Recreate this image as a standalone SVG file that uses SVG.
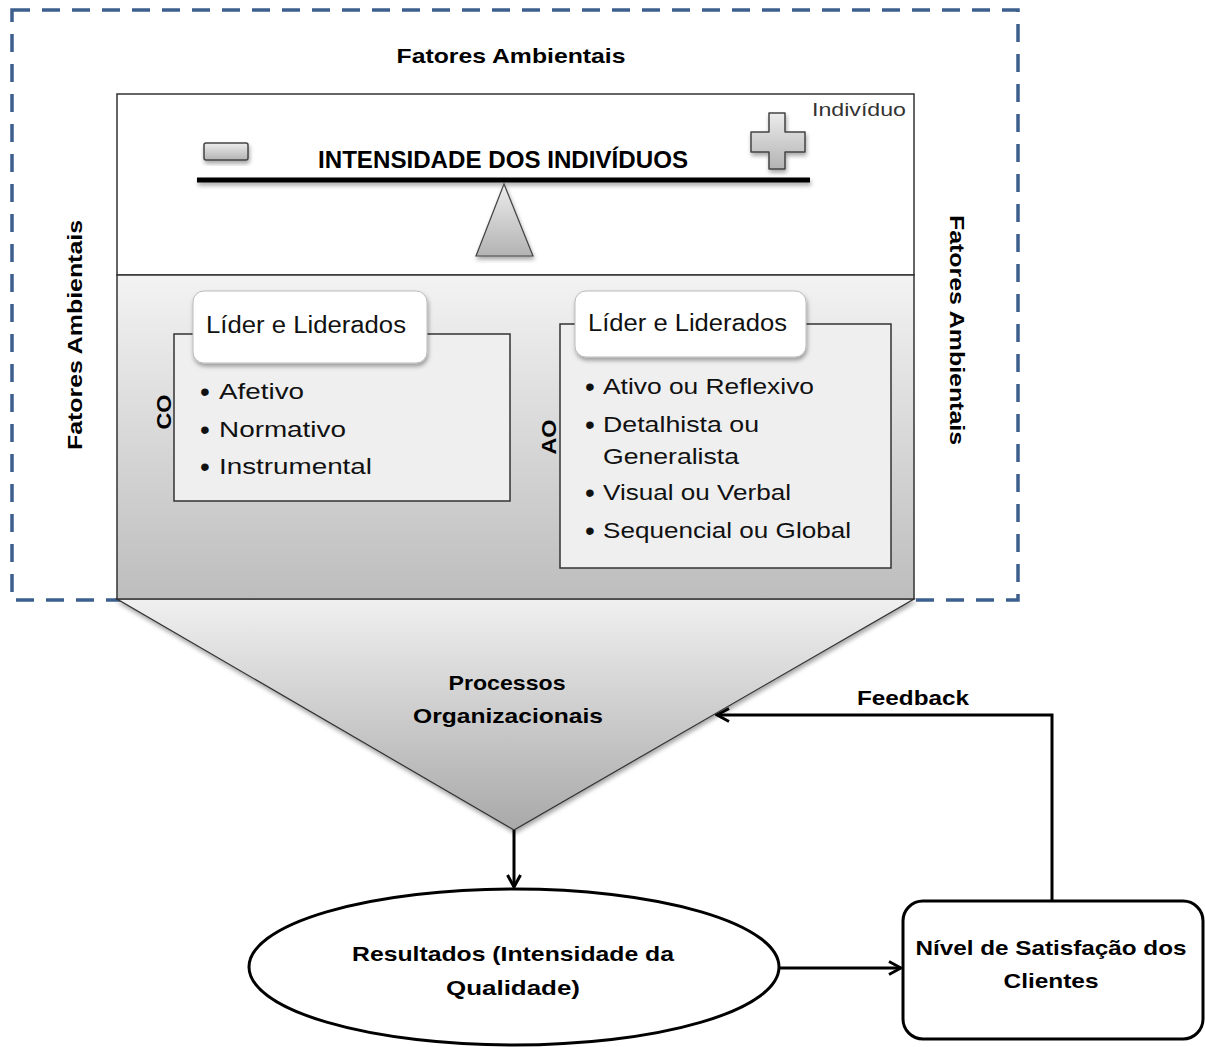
<svg xmlns="http://www.w3.org/2000/svg" width="1205" height="1047" viewBox="0 0 1205 1047">
<defs>
<style>
text{font-family:"Liberation Sans",Arial,sans-serif;fill:#000}
.b{font-weight:bold}
.lbl{font-size:21px;font-weight:bold}
.item{font-size:22px;fill:#111}
.bul{font-size:28px;fill:#111}
.conn{fill:none;stroke:#000;stroke-width:3}
</style>
<linearGradient id="gBody" x1="0" y1="0" x2="0" y2="1"><stop offset="0" stop-color="#f3f3f3"/><stop offset="1" stop-color="#bdbdbd"/></linearGradient>
<linearGradient id="gFun" x1="0" y1="0" x2="0" y2="1"><stop offset="0" stop-color="#f0f0f0"/><stop offset="1" stop-color="#a9a9a9"/></linearGradient>
<linearGradient id="gSym" x1="0" y1="0" x2="0" y2="1"><stop offset="0" stop-color="#ececec"/><stop offset="1" stop-color="#b3b3b3"/></linearGradient>
<filter id="sh" x="-10%" y="-10%" width="130%" height="140%"><feDropShadow dx="1" dy="3" stdDeviation="2" flood-color="#000" flood-opacity="0.35"/></filter>
<filter id="shL" filterUnits="userSpaceOnUse" x="180" y="170" width="650" height="25"><feDropShadow dx="1" dy="3" stdDeviation="2" flood-color="#000" flood-opacity="0.35"/></filter>
<marker id="arr" viewBox="0 0 16 16" refX="14" refY="8" markerWidth="16" markerHeight="16" markerUnits="userSpaceOnUse" orient="auto"><path d="M2,1.5 L14,8 L2,14.5" fill="none" stroke="#000" stroke-width="3"/></marker>
</defs>
<rect width="1205" height="1047" fill="#fff"/>
<g id="env">
<rect x="12" y="10" width="1006" height="590" fill="none" stroke="#3d5f8e" stroke-width="3.5" stroke-dasharray="18 12"/>
<text class="lbl" x="511" y="63" text-anchor="middle" textLength="229" lengthAdjust="spacingAndGlyphs">Fatores Ambientais</text>
<text class="lbl" transform="translate(82,335) rotate(-90)" text-anchor="middle" textLength="230" lengthAdjust="spacingAndGlyphs">Fatores Ambientais</text>
<text class="lbl" transform="translate(950,330) rotate(90)" text-anchor="middle" textLength="230" lengthAdjust="spacingAndGlyphs">Fatores Ambientais</text>
</g>
<g id="funnel">
<polygon points="117,599 914,599 514,830" fill="url(#gFun)" stroke="#333" stroke-width="1.2" filter="url(#sh)"/>
<text class="lbl" x="507" y="690" text-anchor="middle" textLength="117" lengthAdjust="spacingAndGlyphs">Processos</text>
<text class="lbl" x="508" y="723" text-anchor="middle" textLength="190" lengthAdjust="spacingAndGlyphs">Organizacionais</text>
</g>
<g id="individuo">
<rect x="117" y="94" width="797" height="181" fill="#fff" stroke="#333" stroke-width="1.5"/>
<rect x="117" y="275" width="797" height="324" fill="url(#gBody)" stroke="#333" stroke-width="1.5"/>
<text x="906" y="116" text-anchor="end" style="font-size:19px;fill:#333" textLength="94" lengthAdjust="spacingAndGlyphs">Indivíduo</text>
</g>
<g id="balanca">
<rect x="197" y="177.5" width="613" height="5" fill="#000" filter="url(#shL)"/>
<polygon points="504,184 476,256 533,256" fill="url(#gSym)" stroke="#444" stroke-width="1.2" filter="url(#sh)"/>
<rect x="204" y="143" width="44" height="17" rx="2" fill="url(#gSym)" stroke="#444" stroke-width="1.5" filter="url(#sh)"/>
<path d="M769,113 H785 V132 H805 V152 H785 V169 H769 V152 H751 V132 H769 Z" fill="url(#gSym)" stroke="#444" stroke-width="1.5" stroke-linejoin="round" filter="url(#sh)"/>
<text class="b" x="503" y="168" text-anchor="middle" style="font-size:23px" textLength="370" lengthAdjust="spacingAndGlyphs">INTENSIDADE DOS INDIVÍDUOS</text>
</g>
<g id="co">
<rect x="174" y="334" width="336" height="167" fill="#efefef" stroke="#333" stroke-width="1.5"/>
<rect x="193" y="291" width="234" height="72" rx="11" fill="#fff" stroke="#bbb" stroke-width="1" filter="url(#sh)"/>
<text x="206" y="333" style="font-size:23px;fill:#111" textLength="200" lengthAdjust="spacingAndGlyphs">Líder e Liderados</text>
<text class="bul" x="200" y="401">•</text><text class="item" x="219" y="399" textLength="85" lengthAdjust="spacingAndGlyphs">Afetivo</text>
<text class="bul" x="200" y="439">•</text><text class="item" x="219" y="437" textLength="127" lengthAdjust="spacingAndGlyphs">Normativo</text>
<text class="bul" x="200" y="476">•</text><text class="item" x="219" y="474" textLength="153" lengthAdjust="spacingAndGlyphs">Instrumental</text>
<text class="lbl" transform="translate(171,412) rotate(-90)" text-anchor="middle" style="font-size:20px" textLength="35" lengthAdjust="spacingAndGlyphs">CO</text>
</g>
<g id="ao">
<rect x="560" y="324" width="331" height="244" fill="#efefef" stroke="#333" stroke-width="1.5"/>
<rect x="575" y="291" width="231" height="66" rx="11" fill="#fff" stroke="#bbb" stroke-width="1" filter="url(#sh)"/>
<text x="588" y="331" style="font-size:23px;fill:#111" textLength="199" lengthAdjust="spacingAndGlyphs">Líder e Liderados</text>
<text class="bul" x="585" y="396">•</text><text class="item" x="603" y="394" textLength="211" lengthAdjust="spacingAndGlyphs">Ativo ou Reflexivo</text>
<text class="bul" x="585" y="434">•</text><text class="item" x="603" y="432" textLength="156" lengthAdjust="spacingAndGlyphs">Detalhista ou</text>
<text class="item" x="603" y="464" textLength="136" lengthAdjust="spacingAndGlyphs">Generalista</text>
<text class="bul" x="585" y="502">•</text><text class="item" x="603" y="500" textLength="188" lengthAdjust="spacingAndGlyphs">Visual ou Verbal</text>
<text class="bul" x="585" y="540">•</text><text class="item" x="603" y="538" textLength="248" lengthAdjust="spacingAndGlyphs">Sequencial ou Global</text>
<text class="lbl" transform="translate(556,437) rotate(-90)" text-anchor="middle" style="font-size:20px" textLength="35" lengthAdjust="spacingAndGlyphs">AO</text>
</g>
<g id="resultados">
<ellipse cx="514" cy="967" rx="265" ry="78" fill="#fff" stroke="#000" stroke-width="3"/>
<text class="lbl" x="513" y="961" text-anchor="middle" textLength="322" lengthAdjust="spacingAndGlyphs">Resultados (Intensidade da</text>
<text class="lbl" x="513" y="995" text-anchor="middle" textLength="134" lengthAdjust="spacingAndGlyphs">Qualidade)</text>
</g>
<g id="satisfacao">
<rect x="903" y="901" width="300" height="138" rx="20" fill="#fff" stroke="#000" stroke-width="3"/>
<text class="lbl" x="1051" y="955" text-anchor="middle" textLength="271" lengthAdjust="spacingAndGlyphs">Nível de Satisfação dos</text>
<text class="lbl" x="1051" y="988" text-anchor="middle" textLength="95" lengthAdjust="spacingAndGlyphs">Clientes</text>
</g>
<g id="connectors">
<line class="conn" x1="514" y1="830" x2="514" y2="887" marker-end="url(#arr)"/>
<line class="conn" x1="780" y1="968" x2="901" y2="968" marker-end="url(#arr)"/>
<polyline class="conn" points="1052,901 1052,715 717,715" marker-end="url(#arr)"/>
<text class="lbl" x="913" y="705" text-anchor="middle" textLength="112" lengthAdjust="spacingAndGlyphs">Feedback</text>
</g>
</svg>
